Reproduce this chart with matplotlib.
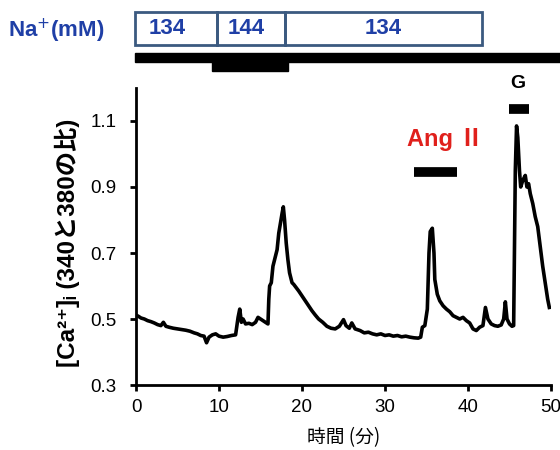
import numpy as np
import matplotlib
matplotlib.use('Agg')
import matplotlib.pyplot as plt

# trace: time (min) and 340/380 ratio
t = [0, 0.3, 0.6, 1.0, 1.4, 1.8, 2.2, 2.6, 3.0, 3.3, 3.6, 4.0, 4.5, 5.0, 5.5,
     6.0, 6.5, 7.0, 7.4, 7.8, 8.2, 8.5, 8.8, 9.2, 9.6, 10.0, 10.5, 11.0, 11.5, 12.0,
     12.3, 12.5, 12.7, 12.9, 13.2, 13.6, 14.0, 14.4, 14.7, 15.0, 15.3, 15.6, 15.9,
     16.0, 16.1, 16.3, 16.5, 16.8, 17.0, 17.2, 17.4, 17.6, 17.75, 17.9, 18.1, 18.3,
     18.5, 18.8, 19.0, 19.3, 19.6, 20.0, 20.4, 20.8, 21.2, 21.6, 22.0, 22.5, 23.0,
     23.5, 24.0, 24.5, 25.0, 25.3, 25.7, 26.0, 26.4, 27.0, 27.5, 28.0, 28.5, 29.0,
     29.5, 30.0, 30.5, 31.0, 31.5, 32.0, 32.5, 33.0, 33.5, 34.0, 34.3,
     34.5, 34.8, 35.1, 35.3, 35.45, 35.7, 35.9, 36.0, 36.3, 36.6, 37.0, 37.4, 37.8,
     38.2, 38.6, 39.0, 39.4, 39.8, 40.2, 40.6, 41.0, 41.4, 41.8, 42.1, 42.4, 42.8,
     43.2, 43.6, 44.0, 44.3, 44.5, 44.7, 45.0, 45.3, 45.5,
     45.7, 45.85, 46.0, 46.2, 46.35, 46.6, 46.9, 47.1, 47.3, 47.5, 47.8, 48.1, 48.4,
     48.7, 49.0, 49.3, 49.6, 49.8]
ratio = [0.512, 0.508, 0.503, 0.500, 0.495, 0.492, 0.488, 0.483, 0.480, 0.490, 0.478,
         0.475, 0.472, 0.470, 0.468, 0.466, 0.463, 0.458, 0.455, 0.450, 0.448, 0.428,
         0.445, 0.452, 0.455, 0.448, 0.445, 0.447, 0.450, 0.452,
         0.505, 0.530, 0.490, 0.500, 0.485, 0.487, 0.483, 0.490, 0.505, 0.500, 0.495,
         0.490, 0.485,
         0.560, 0.600, 0.610, 0.660, 0.690, 0.710, 0.760, 0.790, 0.820, 0.840, 0.800,
         0.730, 0.680, 0.640, 0.610, 0.605, 0.595, 0.585, 0.570, 0.555, 0.540, 0.525,
         0.512, 0.500, 0.490, 0.478, 0.472, 0.470, 0.478, 0.498, 0.480, 0.472, 0.488,
         0.470, 0.465, 0.458, 0.460, 0.455, 0.452, 0.455, 0.450, 0.452, 0.448, 0.450,
         0.446, 0.448, 0.445, 0.443, 0.442, 0.445,
         0.475, 0.480, 0.530, 0.700, 0.765, 0.775, 0.700, 0.620, 0.575, 0.555, 0.540,
         0.530, 0.522, 0.510, 0.505, 0.500, 0.505, 0.495, 0.488, 0.470, 0.465, 0.475,
         0.480, 0.535, 0.500, 0.485, 0.480, 0.478, 0.482, 0.500, 0.552, 0.500, 0.485,
         0.478, 0.480,
         0.950, 1.085, 1.050, 0.950, 0.900, 0.920, 0.935, 0.900, 0.910, 0.880, 0.850,
         0.810, 0.780, 0.720, 0.660, 0.610, 0.560, 0.535]

# Na+ concentration boxes (start, end, mM) and perfusion steps
na_start = [-0.1, 9.8, 18.0]
na_end = [9.8, 18.0, 41.7]
na_conc = ['134', '144', '134']
na_label_t = [3.8, 13.3, 29.8]
step_low = (-0.1, 51.5)
step_high = (9.1, 18.3)

ang_bar = (33.5, 38.7)
g_bar = (44.9, 47.3)

blue = '#1f3fa6'
red = '#e0201c'
cjk = ['Noto Sans CJK JP', 'DejaVu Sans']
latin_cjk = ['Liberation Sans', 'Noto Sans CJK JP', 'DejaVu Sans']

fig = plt.figure(figsize=(5.6, 4.5), dpi=100)
ax = fig.add_axes([136 / 560, 1 - 385 / 450, 415 / 560, 297 / 450])

ax.plot(t, ratio, color='black', lw=2.6)
ax.set_xlim(0, 50)
ax.set_ylim(0.3, 1.2)
ax.set_xticks(np.arange(0, 51, 10))
ax.set_yticks([0.3, 0.5, 0.7, 0.9, 1.1])
ax.set_yticklabels(['0.3', '0.5', '0.7', '0.9', '1.1'])
for s in ['top', 'right']:
    ax.spines[s].set_visible(False)
for s in ['left', 'bottom']:
    ax.spines[s].set_linewidth(2)
ax.tick_params(axis='y', direction='out', length=4, width=2, labelsize=13.5, pad=10)
ax.tick_params(axis='x', direction='out', length=4, width=2, labelsize=13.5, pad=6)
for lab in ax.get_xticklabels() + ax.get_yticklabels():
    lab.set_family('Liberation Sans')

ax.set_xlabel('時間 (分)', family=cjk, fontsize=13.5)
ax.xaxis.set_label_coords(0.5, -0.143)
ax.set_ylabel('[Ca²⁺]ᵢ (340と380の比)', family=latin_cjk, fontsize=17.5,
              fontweight='bold')
ax.yaxis.set_label_coords(-0.135, 0.48)

# Ang II and G bars
ax.plot(ang_bar, [0.945, 0.945], color='black', lw=7, solid_capstyle='butt')
ax.text(37.3, 1.045, 'Ang Ⅱ', color=red, fontsize=17,
        fontweight='bold', ha='center', va='center',
        family=['Liberation Sans', 'Noto Sans CJK JP'])
ax.plot(g_bar, [1.136, 1.136], color='black', lw=7, solid_capstyle='butt',
        clip_on=False)
ax.text(46.0, 1.214, 'G', fontsize=14, fontweight='bold', ha='center',
        va='center', family='Liberation Sans', clip_on=False)

# top panel: Na+ boxes and perfusion step
top = fig.add_axes([136 / 560, 1 - 80 / 450, 415 / 560, 80 / 450])
top.set_xlim(0, 50)
top.set_ylim(80, 0)
top.axis('off')
for a, b, c, x in zip(na_start, na_end, na_conc, na_label_t):
    top.add_patch(plt.Rectangle((a, 12), b - a, 33, fill=False,
                                edgecolor='#3b5a80', lw=2, clip_on=False))
    top.text(x, 29, c, color=blue, fontsize=16, fontweight='bold',
             ha='center', va='center', family='Liberation Sans', clip_on=False)
top.add_patch(plt.Rectangle((step_low[0], 53), step_low[1] - step_low[0], 9,
                            color='black', clip_on=False))
top.add_patch(plt.Rectangle((step_high[0], 61), step_high[1] - step_high[0], 10,
                            color='black', clip_on=False))
fig.text(56 / 560, 1 - 31 / 450, 'Na$^{+}$(mM)', color=blue, fontsize=16,
         fontweight='bold', ha='center', va='center', family='Liberation Sans')

fig.savefig('out.png', dpi=100)
